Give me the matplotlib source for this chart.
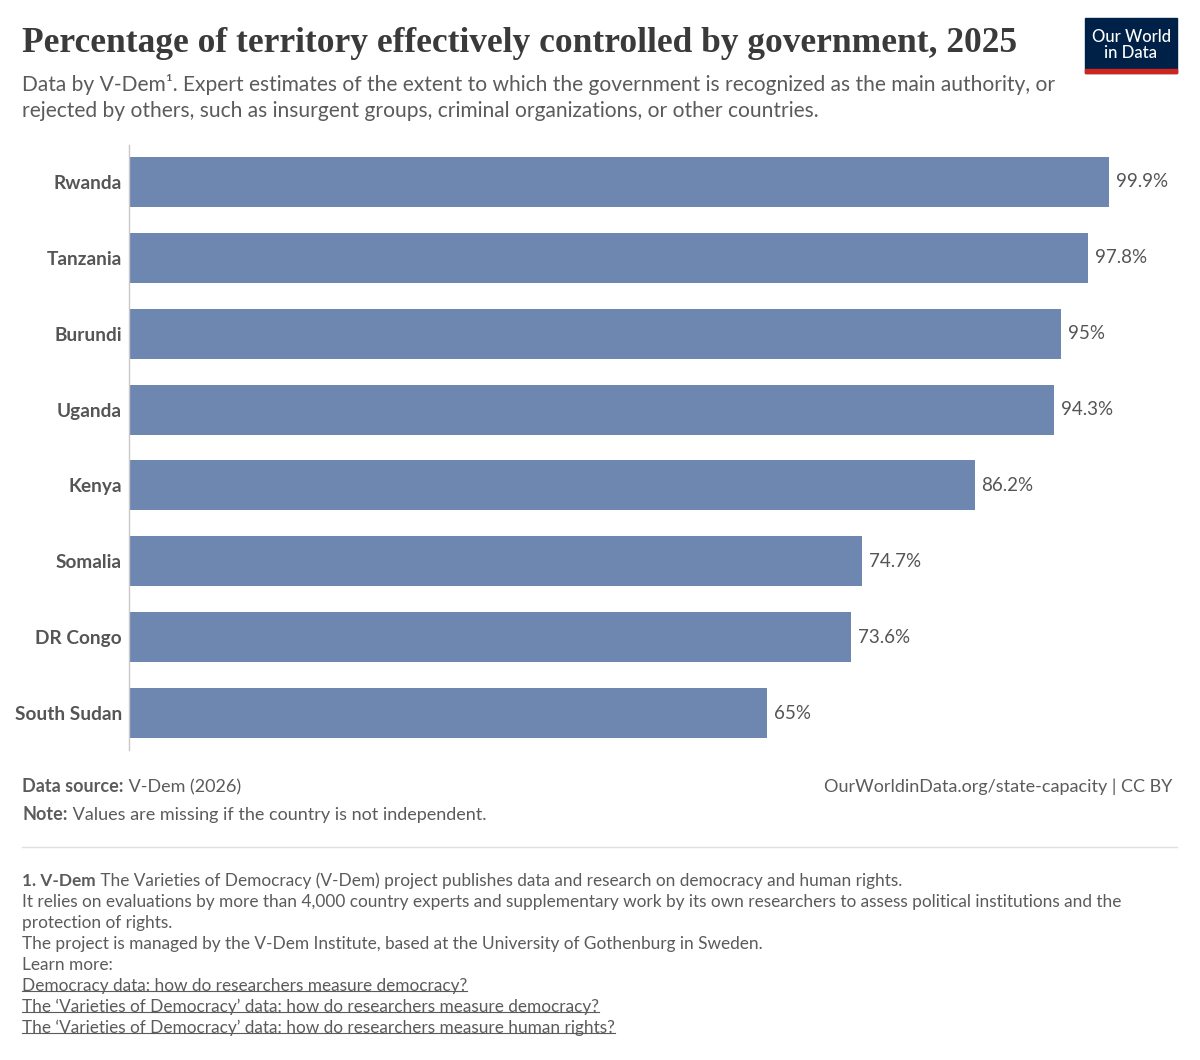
import matplotlib
matplotlib.use("Agg")
import matplotlib.pyplot as plt
from matplotlib.patches import Rectangle
from matplotlib.lines import Line2D

# -------------------------------
# Data
# -------------------------------
countries = ["Rwanda", "Tanzania", "Burundi", "Uganda", "Kenya",
             "Somalia", "DR Congo", "South Sudan"]
values = [99.9, 97.8, 95, 94.3, 86.2, 74.7, 73.6, 65]
value_labels = ["99.9%", "97.8%", "95%", "94.3%", "86.2%", "74.7%", "73.6%", "65%"]

title = "Percentage of territory effectively controlled by government, 2025"
subtitle = ("Data by V-Dem¹. Expert estimates of the extent to which the government is recognized as the main authority, or\n"
            "rejected by others, such as insurgent groups, criminal organizations, or other countries.")
footnote_lines = [
    "It relies on evaluations by more than 4,000 country experts and supplementary work by its own researchers to assess political institutions and the",
    "protection of rights.",
    "The project is managed by the V-Dem Institute, based at the University of Gothenburg in Sweden.",
    "Learn more:",
]
links = [
    "Democracy data: how do researchers measure democracy?",
    "The \u2018Varieties of Democracy\u2019 data: how do researchers measure democracy?",
    "The \u2018Varieties of Democracy\u2019 data: how do researchers measure human rights?",
]

BAR = "#6d87b0"
GREY = "#5b5b5b"
W, H = 1200, 1060

plt.rcParams["font.family"] = ["Lato", "DejaVu Sans"]

fig = plt.figure(figsize=(W / 100, H / 100), dpi=100)
fig.patch.set_facecolor("white")

def fx(px):
    return px / W

def fy(py):
    return 1 - py / H

# -------------------------------
# Bars
# -------------------------------
ax = fig.add_axes([fx(129), fy(750), fx(981), 605 / H])
ypos = list(range(len(countries)))
ax.barh(ypos, values, height=50 / 76, color=BAR)
ax.set_xlim(0, 100)
ax.set_ylim(7.487, -0.487)
ax.set_xticks([])
ax.set_yticks(ypos)
ax.set_yticklabels(countries, fontsize=13.7, color="#555555", fontweight="bold")
ax.tick_params(axis="y", length=0, pad=5)
for s in ["top", "right", "bottom"]:
    ax.spines[s].set_visible(False)
ax.spines["left"].set_color("#c8c8c8")
ax.spines["left"].set_linewidth(1)

for y, v, lab in zip(ypos, values, value_labels):
    ax.annotate(lab, (v, y), xytext=(5, 0), textcoords="offset points",
                va="center", ha="left", fontsize=13.5, color="#555555")

# -------------------------------
# Header
# -------------------------------
fig.text(fx(22), fy(44), title, fontsize=25.5, color="#3a3a3a", fontweight="bold",
         family=["Liberation Serif", "DejaVu Serif"], va="center", ha="left")
fig.text(fx(22), fy(74), subtitle, fontsize=15.1, color=GREY,
         va="top", ha="left", linespacing=1.38)

# logo
fig.add_artist(Rectangle((fx(1085), fy(73)), fx(92), (73 - 18) / H,
                         transform=fig.transFigure, color="#002147"))
fig.add_artist(Rectangle((fx(1085), fy(73)), fx(92), 4 / H,
                         transform=fig.transFigure, color="#ce261e"))
fig.text(fx(1131), fy(45), "Our World\nin Data", color="white", fontsize=12,
         ha="center", va="center", linespacing=0.95, fontweight="medium")

# -------------------------------
# Footer
# -------------------------------
ffs = 13
t1 = fig.text(fx(22), fy(795), "Data source:", fontsize=ffs, color=GREY,
              fontweight="bold", va="bottom", ha="left")
plt.annotate(" V-Dem (2026)", xy=(1, 0), xycoords=t1, fontsize=ffs,
             color=GREY, va="bottom", ha="left", annotation_clip=False)
fig.text(fx(1172), fy(795), "OurWorldinData.org/state-capacity | CC BY",
         fontsize=ffs, color=GREY, va="bottom", ha="right")
t2 = fig.text(fx(22), fy(823), "Note:", fontsize=ffs, color=GREY,
              fontweight="bold", va="bottom", ha="left")
plt.annotate(" Values are missing if the country is not independent.", xy=(1, 0),
             xycoords=t2, fontsize=ffs, color=GREY, va="bottom", ha="left",
             annotation_clip=False)

fig.add_artist(Line2D([fx(22), fx(1177)], [fy(847), fy(847)],
                      transform=fig.transFigure, color="#e0e0e0", lw=1))

fs = 12.4
t3 = fig.text(fx(22), fy(889), "1. V-Dem", fontsize=fs, color=GREY,
              fontweight="bold", va="bottom", ha="left")
plt.annotate(" The Varieties of Democracy (V-Dem) project publishes data and research on democracy and human rights.",
             xy=(1, 0), xycoords=t3, fontsize=fs, color=GREY, va="bottom",
             ha="left", annotation_clip=False)
line_y = 889
for line in footnote_lines:
    line_y += 21
    fig.text(fx(22), fy(line_y), line, fontsize=fs, color=GREY, va="bottom", ha="left")
link_texts = []
for line in links:
    line_y += 21
    link_texts.append(fig.text(fx(22), fy(line_y), line, fontsize=fs, color=GREY,
                               va="bottom", ha="left"))

# underline the links
fig.canvas.draw()
r = fig.canvas.get_renderer()
for t in link_texts:
    bb = t.get_window_extent(r)
    y = bb.y0 + 3
    fig.add_artist(Line2D([bb.x0 / W, bb.x1 / W], [y / H, y / H],
                          transform=fig.transFigure, color=GREY, lw=0.8))

fig.savefig("out.png", dpi=100)
